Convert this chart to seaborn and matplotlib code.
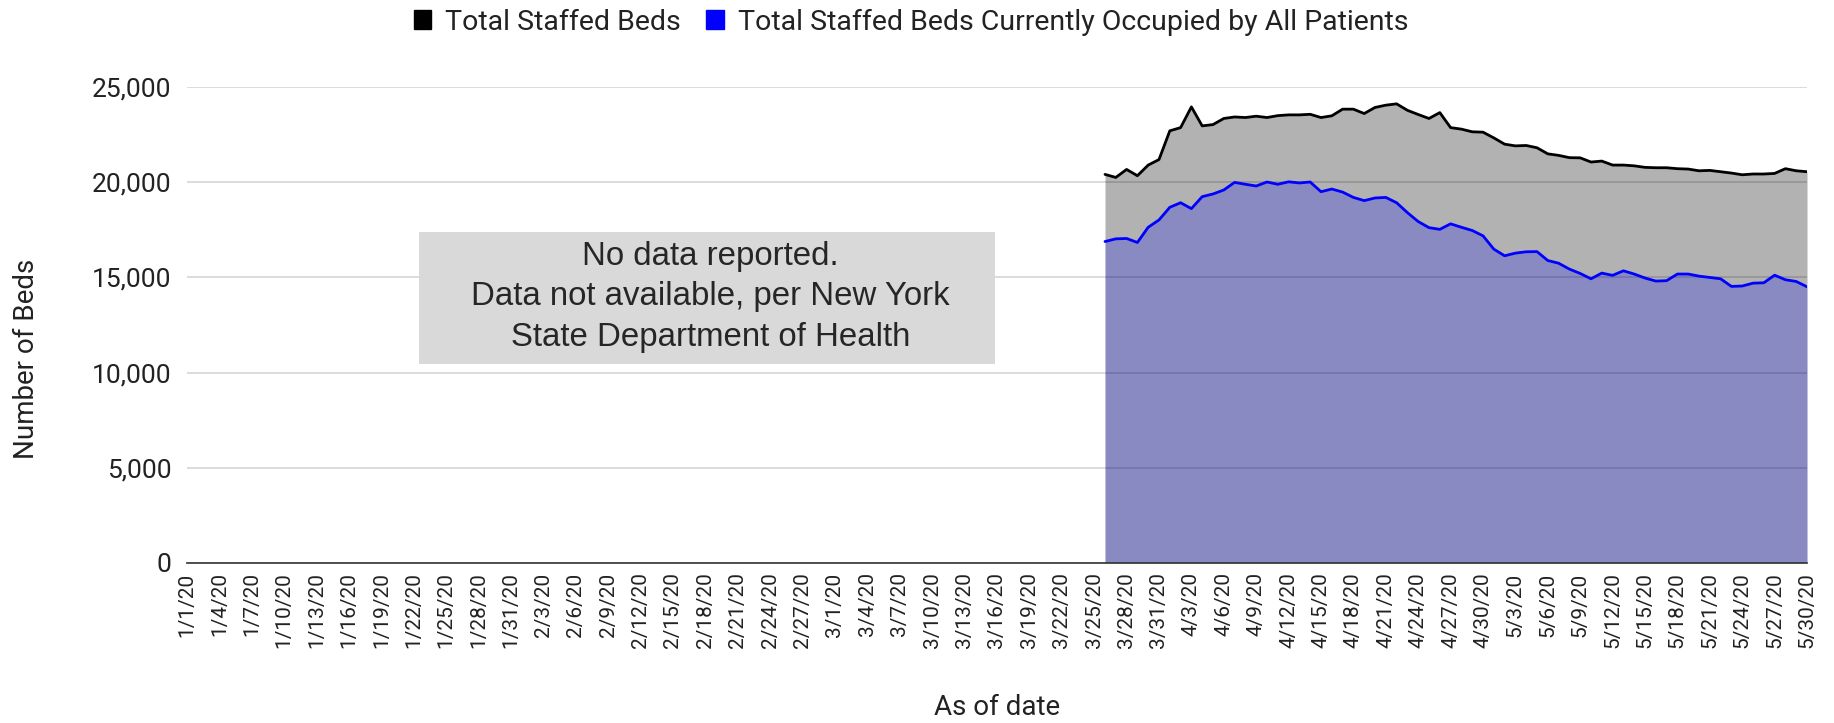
# 纽约州医院床位图
import numpy as np
import pandas as pd
import matplotlib
matplotlib.use('Agg')
import matplotlib.pyplot as plt
import seaborn as sns
from matplotlib.patches import Patch, Rectangle

# x轴类别: 1/1/20 .. 5/30/20 每天一个
dates = pd.date_range('2020-01-01', '2020-05-30', freq='D')
date_labels = [f"{d.month}/{d.day}/20" for d in dates]
first_reported = '3/26/20'

# 3/26/20 起每天的数值
total_staffed = [
    20420, 20260, 20680, 20350, 20910, 21200, 22710, 22880, 23970, 22970,
    23040, 23360, 23440, 23410, 23480, 23410, 23510, 23550, 23550, 23580,
    23410, 23500, 23850, 23850, 23620, 23940, 24060, 24130, 23790, 23570,
    23360, 23670, 22880, 22800, 22660, 22640, 22340, 22010, 21920, 21940,
    21820, 21500, 21420, 21300, 21290, 21070, 21120, 20910, 20910, 20870,
    20790, 20770, 20770, 20720, 20700, 20610, 20630, 20560, 20490, 20400,
    20440, 20440, 20470, 20720, 20610, 20560,
]
occupied = [
    16890, 17030, 17050, 16840, 17640, 18025, 18690, 18930, 18620, 19250,
    19390, 19600, 20000, 19900, 19810, 20020, 19900, 20030, 19970, 20020,
    19510, 19650, 19490, 19210, 19040, 19180, 19210, 18930, 18410, 17940,
    17620, 17530, 17820, 17640, 17470, 17190, 16490, 16140, 16280, 16350,
    16360, 15890, 15750, 15440, 15210, 14930, 15230, 15110, 15350, 15180,
    14970, 14810, 14830, 15180, 15180, 15070, 15000, 14930, 14530, 14550,
    14700, 14720, 15120, 14880, 14790, 14510,
]

legend_labels = ['Total Staffed Beds',
                 'Total Staffed Beds Currently Occupied by All Patients']
y_ticks = [0, 5000, 10000, 15000, 20000, 25000]
note = "No data reported.\nData not available, per New York\nState Department of Health"

start = date_labels.index(first_reported)
df = pd.DataFrame({
    'day': np.arange(start, start + len(total_staffed)),
    'total': total_staffed,
    'occupied': occupied,
})

sns.set_style('white')
plt.rcParams['font.family'] = ['Roboto', 'DejaVu Sans']

W, H = 1834, 723
fig = plt.figure(figsize=(W / 100, H / 100), dpi=100)
ax = fig.add_axes([187 / W, 1 - 562.7 / H, 1620 / W, 475.4 / H])

# 面积
ax.fill_between(df['day'], 0, df['total'], color='black', alpha=0.3, lw=0, zorder=2)
ax.fill_between(df['day'], 0, df['occupied'], color='blue', alpha=0.22, lw=0, zorder=3)
sns.lineplot(data=df, x='day', y='total', color='black', lw=2.0, ax=ax, zorder=4)
sns.lineplot(data=df, x='day', y='occupied', color='#0000ff', lw=2.0, ax=ax, zorder=5)

# 坐标轴
ax.set_xlim(0, len(dates) - 1)
ax.set_ylim(0, 25000)
ax.set_yticks(y_ticks)
ax.set_yticklabels([f"{v:,}" for v in y_ticks])
tick_pos = list(range(0, len(dates), 3))
ax.set_xticks(tick_pos)
ax.set_xticklabels([date_labels[i] for i in tick_pos], rotation=90)
ax.tick_params(axis='y', length=0, pad=11, labelsize=19, labelcolor='#222222')
ax.tick_params(axis='x', length=0, pad=7, labelsize=15, labelcolor='#222222')

ax.set_axisbelow(True)
ax.yaxis.grid(True, color='#d9d9d9', lw=1.3)
for side in ['top', 'right', 'left']:
    ax.spines[side].set_visible(False)
ax.spines['bottom'].set_color('#333333')
ax.spines['bottom'].set_linewidth(1.2)
ax.spines['bottom'].set_zorder(6)

ax.set_xlabel('As of date', fontsize=20, color='#222222', va='center')
ax.xaxis.set_label_coords(0.5, -0.304)
ax.set_ylabel('Number of Beds', fontsize=20, color='#222222', va='center')
ax.yaxis.set_label_coords(-0.0988, 0.429)

# 注释框
ax.add_patch(Rectangle((0.1432, 0.418), 0.3556, 0.2777, transform=ax.transAxes,
                       facecolor='#d9d9d9', edgecolor='none', zorder=3))
ax.text(0.323, 0.559, note, transform=ax.transAxes, ha='center', va='center',
        fontsize=23.8, family=['Liberation Sans'], linespacing=1.4, zorder=4)

# 图例
handles = [Patch(color='black'), Patch(color='#0000ff')]
fig.legend(handles, legend_labels, loc='center', bbox_to_anchor=(911 / W, 1 - 22 / H),
           ncol=2, frameon=False, fontsize=20.5, handlelength=0.6, handleheight=0.6,
           handletextpad=0.5, columnspacing=0.9, labelcolor='#222222')

plt.savefig('out.png', dpi=100)
